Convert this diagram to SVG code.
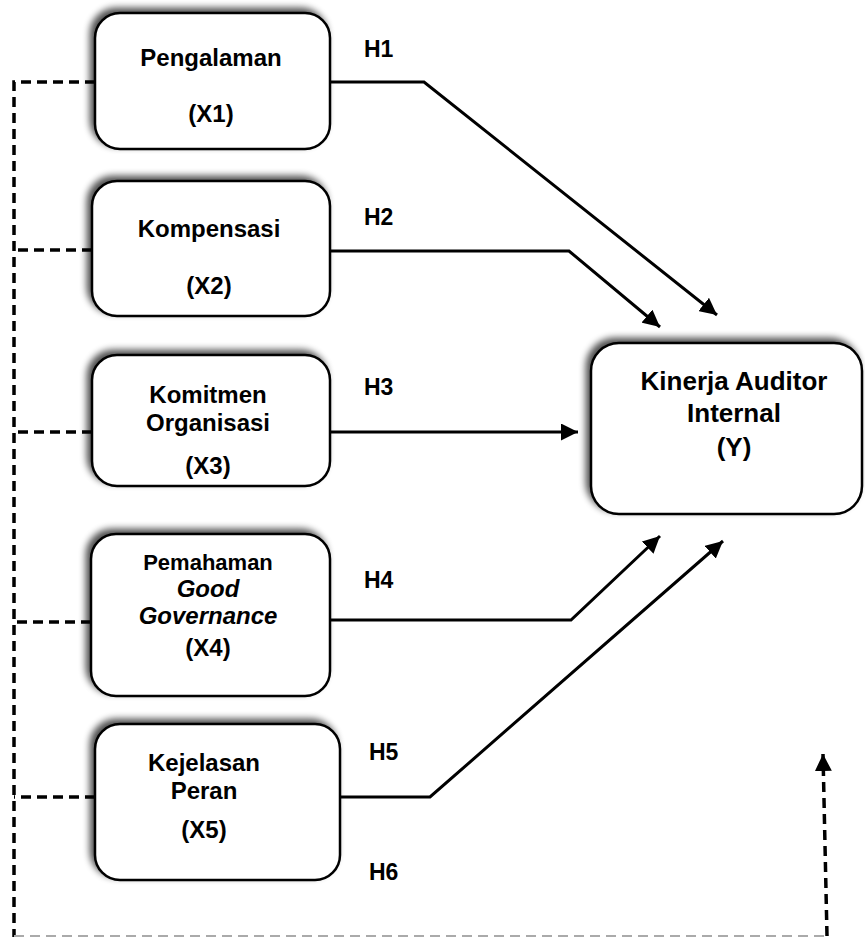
<svg xmlns="http://www.w3.org/2000/svg" width="865" height="938" viewBox="0 0 865 938">
<style>
.box{fill:#fff;stroke:#000;stroke-width:2.5;filter:url(#sh)}
.t{font-family:"Liberation Sans",Arial,sans-serif;font-weight:bold;font-size:24px;fill:#000;text-anchor:middle}
.h{font-family:"Liberation Sans",Arial,sans-serif;font-weight:bold;font-size:23px;fill:#000}
.ln{fill:none;stroke:#000;stroke-width:3}
.dash{fill:none;stroke:#000;stroke-width:3.5;stroke-dasharray:10,6}
</style>
<defs>
<filter id="sh" x="-10%" y="-10%" width="120%" height="120%">
<feGaussianBlur in="SourceAlpha" stdDeviation="3.5"/>
<feOffset dx="-4" dy="-4" result="b"/>
<feComponentTransfer><feFuncA type="linear" slope="0.7"/></feComponentTransfer>
<feMerge><feMergeNode/><feMergeNode in="SourceGraphic"/></feMerge>
</filter>
<marker id="arr" viewBox="0 0 10 10" refX="10" refY="5" markerWidth="17" markerHeight="17" markerUnits="userSpaceOnUse" orient="auto">
<path d="M0,0 L10,5 L0,10 Z" fill="#000"/>
</marker>
</defs>
<g id="connectors">
<path class="dash" d="M95,82 H14 V937"/>
<path class="dash" d="M92,250 H14"/>
<path class="dash" d="M92,432 H14"/>
<path class="dash" d="M91,622 H14"/>
<path class="dash" d="M95,797 H14"/>
<path d="M14,936 H826" fill="none" stroke="#aaa" stroke-width="2" stroke-dasharray="10,6"/>
<path class="dash" d="M827,936 L823,754" marker-end="url(#arr)"/>
<path class="ln" d="M330,82 H424 L717,315" marker-end="url(#arr)"/>
<path class="ln" d="M330,251 H569 L660,327" marker-end="url(#arr)"/>
<path class="ln" d="M330,432 H578" marker-end="url(#arr)"/>
<path class="ln" d="M330,620 H571 L660,536" marker-end="url(#arr)"/>
<path class="ln" d="M340,797 H430 L723,541" marker-end="url(#arr)"/>
</g>
<g id="labels">
<text class="h" x="364" y="57">H1</text>
<text class="h" x="364" y="225">H2</text>
<text class="h" x="364" y="395">H3</text>
<text class="h" x="364" y="588">H4</text>
<text class="h" x="369" y="760">H5</text>
<text class="h" x="369" y="880">H6</text>
</g>
<g id="x1">
<rect class="box" x="95" y="13" width="235" height="136" rx="25"/>
<text class="t" x="211" y="66">Pengalaman</text>
<text class="t" x="211" y="122">(X1)</text>
</g>
<g id="x2">
<rect class="box" x="92" y="181" width="238" height="135" rx="25"/>
<text class="t" x="209" y="237">Kompensasi</text>
<text class="t" x="209" y="294">(X2)</text>
</g>
<g id="x3">
<rect class="box" x="92" y="355" width="238" height="131" rx="25"/>
<text class="t" x="208" y="403">Komitmen</text>
<text class="t" x="208" y="431">Organisasi</text>
<text class="t" x="208" y="474">(X3)</text>
</g>
<g id="x4">
<rect class="box" x="91" y="534" width="239" height="162" rx="25"/>
<text class="t" x="208" y="570" style="font-size:22px">Pemahaman</text>
<text class="t" x="208" y="597" style="font-style:italic">Good</text>
<text class="t" x="208" y="624" style="font-style:italic">Governance</text>
<text class="t" x="208" y="656">(X4)</text>
</g>
<g id="x5">
<rect class="box" x="95" y="724" width="245" height="156" rx="25"/>
<text class="t" x="204" y="771">Kejelasan</text>
<text class="t" x="204" y="799">Peran</text>
<text class="t" x="204" y="838">(X5)</text>
</g>
<g id="y">
<rect class="box" x="591" y="343" width="271" height="171" rx="28"/>
<text class="t" x="734" y="390" style="font-size:26px">Kinerja Auditor</text>
<text class="t" x="734" y="422" style="font-size:26px">Internal</text>
<text class="t" x="734" y="456" style="font-size:26px">(Y)</text>
</g>
</svg>
